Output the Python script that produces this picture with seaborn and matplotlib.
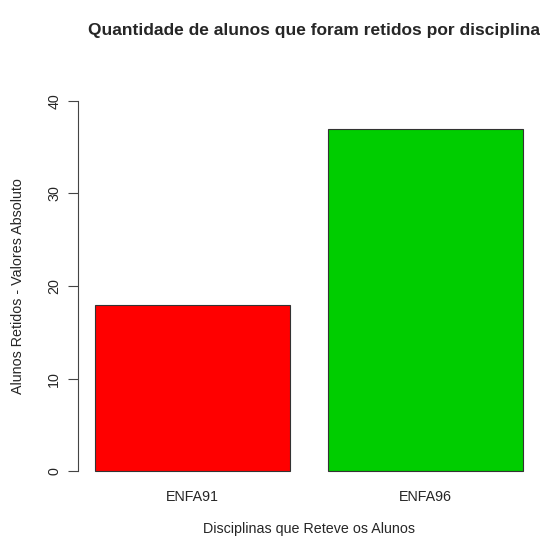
import pandas as pd
import numpy as np
import matplotlib
matplotlib.use("Agg")
import matplotlib.pyplot as plt
import seaborn as sns

disciplinas = ["ENFA91", "ENFA96"]
retidos = [18, 37]
cores = ["#FF0000", "#00CD00"]

sns.set_style("white")
plt.rcParams['font.family'] = ['Liberation Sans', 'DejaVu Sans']

df = pd.DataFrame({"disciplina": disciplinas, "retidos": retidos})

fig = plt.figure(figsize=(5.4, 5.39), dpi=100)
ax = fig.add_axes([0.1444, 0.0983, 0.8556, 0.7421])
sns.barplot(data=df, x="disciplina", y="retidos", hue="disciplina", palette=cores,
            width=0.8333, edgecolor="#333333", linewidth=0.8, saturation=1,
            legend=False, ax=ax)

ax.set_xlim(-0.49, 1.49)
ax.set_ylim(-1.6, 41.6)
ax.set_yticks([0, 10, 20, 30, 40])
ax.tick_params(axis="y", direction="out", length=7, width=0.8, color="#444444",
               pad=5, left=True, labelrotation=90, labelsize=10.3)
for lbl in ax.get_yticklabels():
    lbl.set_va("center")
ax.tick_params(axis="x", length=0, pad=3, labelsize=10.3)

for s in ["top", "right", "bottom"]:
    ax.spines[s].set_visible(False)
ax.spines["left"].set_bounds(0, 40)
ax.spines["left"].set_color("#444444")
ax.spines["left"].set_linewidth(0.8)

ax.set_xlabel("Disciplinas que Reteve os Alunos", fontsize=10.3, labelpad=13)
ax.set_ylabel("Alunos Retidos - Valores Absoluto", fontsize=10.3, labelpad=16)
fig.text(0.582, 0.944, "Quantidade de alunos que foram retidos por disciplina",
         ha="center", va="center", fontsize=12.5, fontweight="bold")

fig.savefig("out.png", dpi=100)
